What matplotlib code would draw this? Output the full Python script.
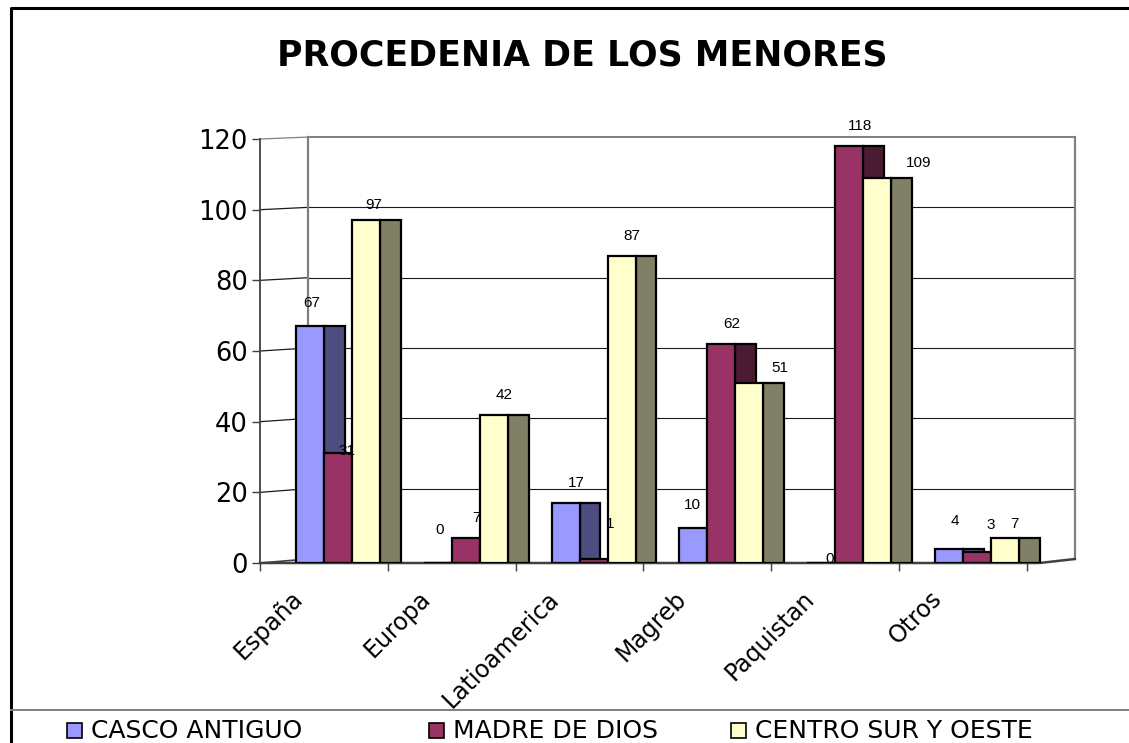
"""Procedencia de los menores - 3D-style grouped column chart."""

import matplotlib

matplotlib.use("Agg")
import matplotlib.pyplot as plt
from matplotlib.lines import Line2D
from matplotlib.patches import Rectangle

CATEGORIES = ["España", "Europa", "Latioamerica", "Magreb", "Paquistan", "Otros"]
SERIES = ["CASCO ANTIGUO", "MADRE DE DIOS", "CENTRO SUR Y OESTE"]
CASCO = [67, 0, 17, 10, 0, 4]
MADRE = [31, 7, 1, 62, 118, 3]
CENTRO = [97, 42, 87, 51, 109, 7]
Y_TICKS = [0, 20, 40, 60, 80, 100, 120]

FRONT_COLORS = ["#9999FF", "#993366", "#FFFFCC"]
SIDE_COLORS = ["#4D4D80", "#4D1A33", "#808066"]

# label nudges in pixels (dx, height above bar top) where Excel placed them oddly
LABEL_NUDGE = {
    (0, 0): (-9, 23), (1, 0): (-1, 2), (2, 0): (-3, 15),
    (0, 1): (-9, 33), (1, 2): (6, 35), (0, 3): (-11, 23),
    (2, 3): (20, 15), (0, 4): (-2, 4), (2, 4): (31, 15),
    (0, 5): (-5, 28), (1, 5): (3, 27), (2, 5): (-1, 14),
}

W, H = 1129, 743
PX_X = 127.8   # pixels per category
PX_Y = 3.533   # pixels per unit of value


def fx(px):
    return px / W


def fy(py):
    return 1 - py / H


def back(x, v):
    """Project a front point onto the back wall."""
    return x + 48 / PX_X, 1.13 + v * 0.9953


def main():
    fig = plt.figure(figsize=(W / 100, H / 100), dpi=100)
    fig.patch.set_facecolor("white")

    # figure frame and legend separator
    fig.add_artist(Line2D([fx(11), fx(11), fx(1129)], [fy(743), fy(8), fy(8)],
                          color="black", lw=2.2))
    fig.add_artist(Line2D([fx(11), fx(1129)], [fy(710), fy(710)], color="#808080", lw=1.4))

    ax = fig.add_axes([fx(260), fy(563), 820 / W, (563 - 130) / H])
    ax.set_xlim(0, 820 / PX_X)
    ax.set_ylim(0, (563 - 130) / PX_Y)
    ax.patch.set_alpha(0)
    for side in ["top", "right", "bottom"]:
        ax.spines[side].set_visible(False)
    ax.spines["left"].set_bounds(0, 120)
    ax.spines["left"].set_color("#404040")
    ax.spines["left"].set_linewidth(1.3)

    n = len(CATEGORIES)
    # back wall + side wall grid
    for v in Y_TICKS[1:]:
        bx0, by = back(0, v)
        bx1, _ = back(n, v)
        col = "#808080" if v == 120 else "#1a1a1a"
        ax.plot([0, bx0], [v, by], color=col, lw=0.9, zorder=1)
        ax.plot([bx0, bx1], [by, by], color=col, lw=1.4 if v == 120 else 0.8, zorder=1)
    bx0, by0 = back(0, 0)
    bx1, by1 = back(n, 120)
    ax.plot([bx0, bx0], [by0, by1], color="#808080", lw=1.6, zorder=1)
    ax.plot([bx1, bx1], [by0, by1], color="#808080", lw=1.6, zorder=1)
    # floor
    ax.plot([0, bx0], [0, by0], color="#404040", lw=1.2, zorder=1)
    ax.plot([0, 6.1, bx1], [0, 0, by0], color="#404040", lw=1.8, zorder=1, clip_on=False)

    # bars
    fw, sw = 0.219, 0.162
    start = 0.282
    data = [CASCO, MADRE, CENTRO]
    for s, vals in enumerate(data):
        lefts = [i + start + s * fw for i in range(n)]
        ax.bar([l + fw for l in lefts], vals, width=sw, align="edge", color=SIDE_COLORS[s],
               edgecolor="black", lw=1.6, zorder=2 + 2 * s)
        ax.bar(lefts, vals, width=fw, align="edge", color=FRONT_COLORS[s],
               edgecolor="black", lw=1.6, zorder=3 + 2 * s)
        for i, v in enumerate(vals):
            dx, dy = LABEL_NUDGE.get((s, i), (0, 20))
            ax.annotate(str(v), (lefts[i] + (fw + sw) / 2, v), xytext=(dx, dy),
                        textcoords="offset pixels", ha="center", va="center",
                        fontsize=11, family="Liberation Sans", zorder=10,
                        annotation_clip=False)

    # axes ticks
    ax.set_yticks(Y_TICKS)
    ax.tick_params(axis="y", labelsize=18.5, length=5.8, width=1, pad=3, colors="#404040",
                   labelcolor="black")
    ax.set_xticks([i + 48 / PX_X for i in range(n)])
    ax.set_xticklabels(CATEGORIES, rotation=45, ha="right", va="top", fontsize=17)
    ax.tick_params(axis="x", length=0, pad=17)
    ax.set_xticks(range(n + 1), minor=True)
    ax.tick_params(axis="x", which="minor", length=5.5, width=1, colors="#404040")

    # title
    fig.text(fx(582), fy(66), "PROCEDENIA DE LOS MENORES", ha="center", va="baseline",
             fontsize=25, fontweight="bold")

    # legend
    legend_x = [67, 429, 731]
    for s, name in enumerate(SERIES):
        x0 = legend_x[s]
        fig.add_artist(Rectangle((fx(x0), fy(738)), 15 / W, 15 / H, facecolor=FRONT_COLORS[s],
                                 edgecolor="black", lw=1.2, transform=fig.transFigure))
        fig.text(fx(x0 + 24), fy(731), name, ha="left", va="center", fontsize=18)

    fig.savefig("out.png", dpi=100)
    plt.close(fig)


if __name__ == "__main__":
    main()
